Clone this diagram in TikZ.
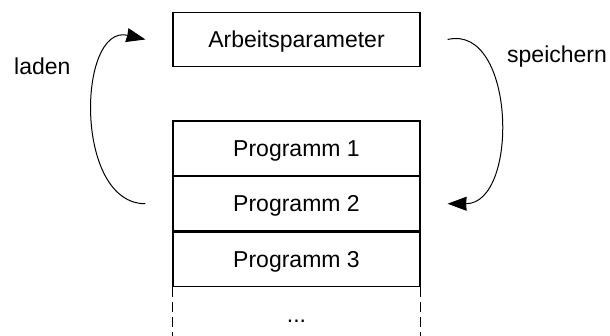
\documentclass[tikz,border=0pt]{standalone}
\usepackage{fontspec}
\setmainfont{Liberation Sans}
\usetikzlibrary{arrows.meta,positioning}
\begin{document}
\begin{tikzpicture}[x=1pt,y=-1pt,
  box/.style={minimum width=247pt,minimum height=54.33pt,inner sep=0pt,
    text height=16.5pt,text depth=0pt,font=\fontsize{23}{27}\selectfont},
  framed/.style={box,draw,line width=1.2pt},
  lbl/.style={inner sep=0pt,font=\fontsize{23}{27}\selectfont},
  flow/.style={line width=1pt,-{Stealth[length=19pt,width=14pt,inset=0.5pt]}}]
\useasboundingbox (0,0) rectangle (610,336);
\clip (0,0) rectangle (610,336);
\node[framed] (ap) at (296.5,39.5) {Arbeitsparameter};
\node[framed] (p1) at (296.5,148.2) {Programm 1};
\node[framed,below=0pt of p1] (p2) {Programm 2};
\node[framed,below=0pt of p2] (p3) {Programm 3};
\node[box,below=0pt of p3] (pd) {...};
\draw[line width=1.2pt,dash pattern=on 10pt off 5pt] (pd.north west) -- (pd.south west);
\draw[line width=1.2pt,dash pattern=on 10pt off 5pt] (pd.north east) -- (pd.south east);
\coordinate (ls) at ([xshift=-27pt]p2.west);
\coordinate (le) at ([xshift=-27pt]ap.west);
\coordinate (ss) at ([xshift=27pt]ap.east);
\coordinate (se) at ([xshift=27pt]p2.east);
\draw[flow] (ls) .. controls ([xshift=-72pt]ls) and ([xshift=-68pt,yshift=16pt]le) .. (le);
\draw[flow] (ss) .. controls ([xshift=68pt,yshift=16pt]ss) and ([xshift=72pt]se) .. (se);
\node[lbl,anchor=base west] (laden) at (14,75) {laden};
\node[lbl,anchor=base west] (speichern) at (507,63) {speichern};
\end{tikzpicture}
\end{document}
